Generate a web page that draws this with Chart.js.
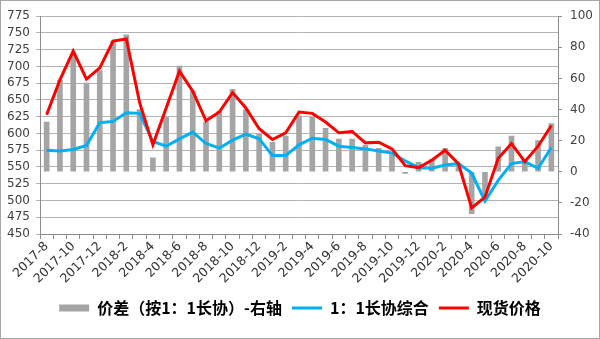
<!DOCTYPE html>
<html>
<head>
<meta charset="utf-8">
<script src="https://cdn.jsdelivr.net/npm/chart.js@4.4.1/dist/chart.umd.min.js"></script>
<style>
  body { margin: 0; background: #fff; }
  #wrap { position: relative; width: 600px; height: 339px; box-sizing: border-box; border: 1px solid #a6a6a6; }
</style>
</head>
<body>
<div id="wrap"><canvas id="chart-spread"></canvas></div>
<script>
// months 2017-8 .. 2020-10
const months = ['2017-8', '2017-9', '2017-10', '2017-11', '2017-12', '2018-1', '2018-2', '2018-3', '2018-4', '2018-5',
    '2018-6', '2018-7', '2018-8', '2018-9', '2018-10', '2018-11', '2018-12', '2019-1', '2019-2', '2019-3',
    '2019-4', '2019-5', '2019-6', '2019-7', '2019-8', '2019-9', '2019-10', '2019-11', '2019-12', '2020-1',
    '2020-2', '2020-3', '2020-4', '2020-5', '2020-6', '2020-7', '2020-8', '2020-9', '2020-10'];

// price spread (right axis)
const spread = [32, 59, 75, 57, 65, 84, 88, 40, 9, 35,
    68, 52, 32, 39, 53, 40, 24, 19, 23, 36,
    35, 28, 21, 21, 17, 15, 11, -1, 6, 8,
    15, 5, -27, -16, 16, 23, 7, 20, 31];

// 1:1 long contract composite (left axis)
const longContract = [575, 574, 576, 582, 616, 618, 631, 630, 588, 581,
    592, 602, 585, 578, 590, 599, 592, 567, 567, 583,
    593, 591, 581, 579, 577, 574, 571, 559, 549, 548,
    553, 555, 541, 499, 530, 555, 558, 548, 579];

// spot price (left axis)
const spotPrice = [628, 680, 723, 681, 698, 738, 741, 646, 583, 638,
    693, 663, 619, 632, 661, 638, 607, 591, 601, 632,
    630, 617, 601, 603, 586, 587, 577, 552, 549, 560,
    575, 555, 489, 505, 563, 585, 558, 581, 612];

const textColor = '#404040';
const axisColor = '#8c8c8c';
const tickFont = { family: 'DejaVu Sans', size: 12 };

const ctx = document.getElementById('chart-spread');
new Chart(ctx, {
    type: 'bar',
    data: {
        labels: months,
        datasets: [{
            type: 'bar',
            label: '价差（按1：1长协）-右轴',
            data: spread,
            yAxisID: 'y2',
            backgroundColor: '#a5a5a5',
            borderWidth: 0,
            barThickness: 5,
            pointStyle: 'rect',
            order: 3
        }, {
            type: 'line',
            label: '1：1长协综合',
            data: longContract,
            yAxisID: 'y',
            borderColor: '#00b0f0',
            backgroundColor: '#00b0f0',
            borderWidth: 3,
            pointRadius: 0,
            pointStyle: 'line',
            tension: 0,
            order: 2
        }, {
            type: 'line',
            label: '现货价格',
            data: spotPrice,
            yAxisID: 'y',
            borderColor: '#ff0000',
            backgroundColor: '#ff0000',
            borderWidth: 3,
            pointRadius: 0,
            pointStyle: 'line',
            tension: 0,
            order: 1
        }]
    },
    options: {
        responsive: true,
        maintainAspectRatio: false,
        animation: false,
        layout: { padding: { top: 7, left: 0, right: 0, bottom: 12 } },
        plugins: {
            tooltip: { enabled: false },
            legend: {
                position: 'bottom',
                labels: {
                    usePointStyle: true,
                    pointStyleWidth: 30,
                    boxHeight: 7,
                    padding: 10,
                    color: '#000',
                    font: { family: 'Noto Sans CJK SC', size: 16, weight: 'bold' },
                    sort: (a, b) => a.datasetIndex - b.datasetIndex
                }
            }
        },
        scales: {
            x: {
                offset: true,
                grid: { drawOnChartArea: false, drawTicks: true, tickLength: 5, offset: true, color: axisColor },
                border: { color: axisColor },
                ticks: {
                    autoSkip: false,
                    maxRotation: 45,
                    minRotation: 45,
                    padding: 0,
                    color: '#333',
                    font: { family: 'DejaVu Sans', size: 12.5 },
                    callback: (v, i) => (i % 2 === 0 ? months[i] : '')
                },
                afterFit: s => { s.height = 56; }
            },
            y: {
                position: 'left',
                min: 450,
                max: 775,
                ticks: { stepSize: 25, autoSkip: false, padding: 6, color: textColor, font: tickFont },
                grid: { color: '#b4b4b4', tickLength: 4 },
                border: { color: axisColor },
                afterFit: s => { s.width = 39; }
            },
            y2: {
                position: 'right',
                min: -40,
                max: 100,
                ticks: { stepSize: 20, autoSkip: false, padding: 8, color: textColor, font: tickFont },
                grid: { drawOnChartArea: false, tickLength: 4, color: axisColor },
                border: { color: axisColor },
                afterFit: s => { s.width = 41; }
            }
        }
    }
});
</script>
</body>
</html>
